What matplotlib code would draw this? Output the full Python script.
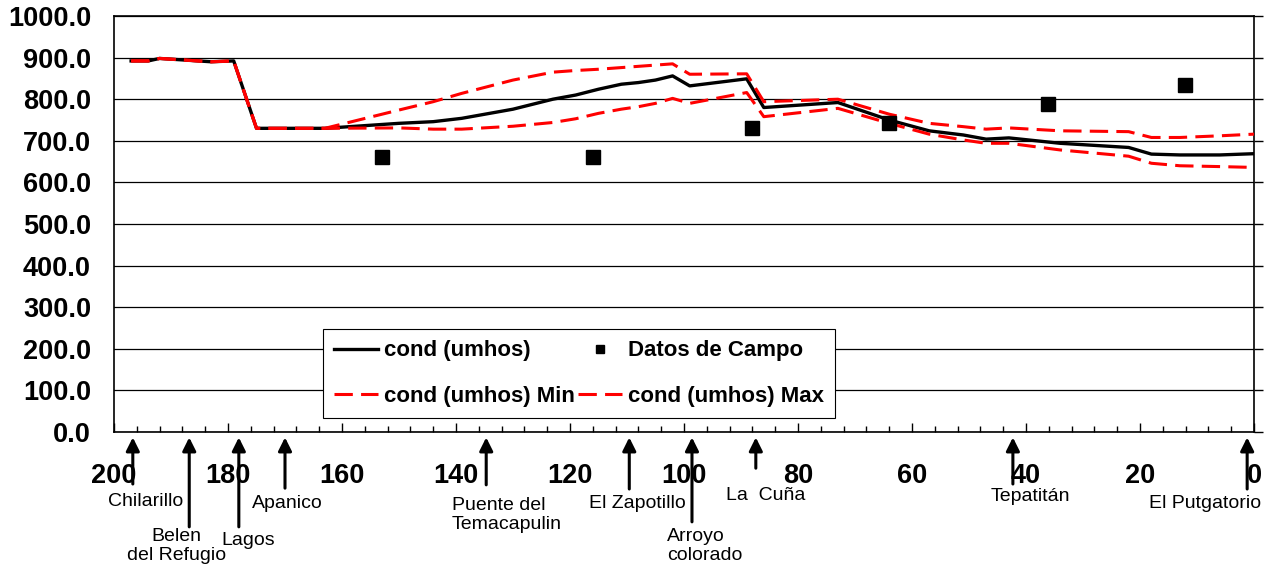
import matplotlib
matplotlib.use("Agg")
import matplotlib.pyplot as plt
from matplotlib.ticker import MultipleLocator, FormatStrFormatter

plt.rcParams["font.family"] = ["Liberation Sans", "DejaVu Sans"]

# --- data ---
km = [197, 194, 192, 183, 179, 175, 163, 150, 144, 139, 130, 123, 119, 115, 111,
      108, 105, 102, 99, 89, 86, 73, 64, 57, 51, 47, 43, 34, 22, 18, 13, 6, 0]
cond = [892, 892, 898, 890, 892, 730, 730, 742, 746, 754, 776, 800, 810, 824, 836,
        840, 846, 856, 832, 849, 780, 792, 750, 724, 714, 704, 707, 694, 684, 668, 666, 666, 669]
cond_min = [892, 892, 898, 890, 892, 730, 730, 731, 728, 728, 735, 744, 753, 766, 776,
            782, 790, 802, 790, 816, 758, 778, 742, 716, 702, 694, 694, 678, 663, 646, 640, 638, 636]
cond_max = [892, 892, 898, 890, 892, 730, 730, 774, 794, 814, 846, 865, 869, 872, 876,
            879, 882, 885, 860, 861, 794, 800, 764, 742, 734, 728, 731, 724, 722, 708, 708, 712, 716]

campo_km = [153.0, 116.0, 88.0, 64.1, 36.1, 12.1]
campo_val = [660, 660, 730, 742, 788, 834]

site_names = ["Chilarillo", "Belen\ndel Refugio", "Lagos", "Apanico", "Puente del\nTemacapulin",
              "El Zapotillo", "Arroyo\ncolorado", "La  Cuña", "Tepatitán", "El Putgatorio"]
site_km = [196.7, 186.8, 178.1, 170.0, 134.7, 109.6, 98.6, 87.4, 42.3, 1.2]

# layout of the site arrows / labels (axes-fraction y, label x in km, alignment)
arrow_tail = [-0.125, -0.228, -0.228, -0.135, -0.127, -0.137, -0.216, -0.087, -0.125, -0.137]
label_x = [194.4, 189.0, 176.5, 169.6, 140.7, 108.2, 103.0, 92.6, 39.3, 8.6]
label_y = [-0.168, -0.274, -0.262, -0.171, -0.1995, -0.171, -0.275, -0.152, -0.156, -0.171]
label_ha = ["center", "center", "center", "center", "left", "center", "left", "left", "center", "center"]

fig = plt.figure(figsize=(12.73, 5.73), dpi=100)
ax = fig.add_axes([114 / 1273, 141 / 573, 1140 / 1273, 416 / 573])

red_dash = (6, 2.7)
l_cond, = ax.plot(km, cond, color="black", lw=2.4, label="cond (umhos)", zorder=3)
l_min, = ax.plot(km, cond_min, color="red", lw=2.2, dashes=red_dash,
                 label="cond (umhos) Min", zorder=4)
l_max, = ax.plot(km, cond_max, color="red", lw=2.2, dashes=red_dash,
                 label="cond (umhos) Max", zorder=4)
l_campo, = ax.plot(campo_km, campo_val, "s", color="black", ms=9.5, ls="none",
                   label="Datos de Campo", zorder=5)

ax.set_xlim(200, 0)
ax.set_ylim(0, 1000)
ax.xaxis.set_major_locator(MultipleLocator(20))
ax.xaxis.set_minor_locator(MultipleLocator(4))
ax.yaxis.set_major_locator(MultipleLocator(100))
ax.yaxis.set_major_formatter(FormatStrFormatter("%.1f"))
ax.grid(axis="y", color="black", lw=0.9)
ax.set_axisbelow(True)

ax.tick_params(axis="x", which="major", direction="in", length=6.5, width=1, pad=22, labelsize=19.5)
ax.tick_params(axis="x", which="minor", direction="in", length=4.3, width=1)
ax.tick_params(axis="y", which="major", direction="out", length=6.5, width=1,
               left=False, right=True, labelleft=True, labelright=False, pad=10, labelsize=19.5)
for lab in ax.get_xticklabels() + ax.get_yticklabels():
    lab.set_fontweight("bold")
for sp in ax.spines.values():
    sp.set_color("black")
    sp.set_linewidth(1.2)

leg = ax.legend(handles=[l_cond, l_min, l_campo, l_max], ncol=2, loc="lower left",
                bbox_to_anchor=(0.183, 0.034), borderaxespad=0, frameon=True, fancybox=False,
                edgecolor="black", framealpha=1, prop={"weight": "bold", "size": 16},
                handlelength=2.0, handletextpad=0.25, columnspacing=0.15, labelspacing=1.1,
                borderpad=0.5, markerscale=0.6)
leg.get_frame().set_linewidth(0.8)
leg.set_zorder(6)

xt = ax.get_xaxis_transform()
for name, k, tail, lx, ly, ha in zip(site_names, site_km, arrow_tail, label_x, label_y, label_ha):
    ax.annotate("", xy=(k, -0.013), xytext=(k, tail), xycoords=xt, textcoords=xt,
                arrowprops=dict(arrowstyle="-|>,head_length=0.8,head_width=0.4", color="black",
                                lw=2.2, mutation_scale=10, shrinkA=0, shrinkB=0))
    ax.text(lx, ly, name, transform=xt, ha=ha, va="center", multialignment=ha,
            fontsize=14, linespacing=1.15, clip_on=False)

fig.savefig("out.png", dpi=100)
